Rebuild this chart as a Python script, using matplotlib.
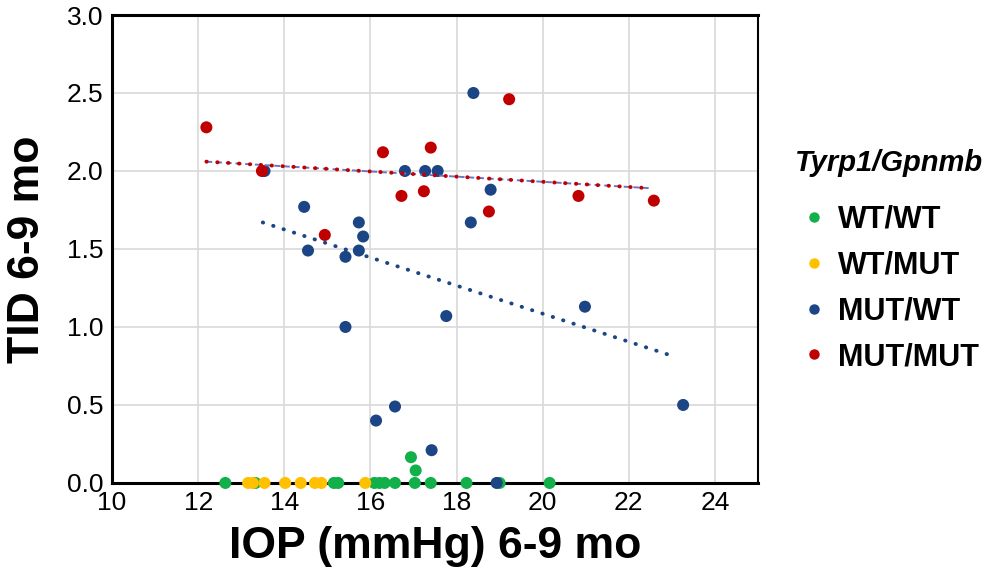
import numpy as np
import matplotlib.pyplot as plt
from matplotlib.lines import Line2D

plt.rcParams['font.family'] = ['Liberation Sans', 'DejaVu Sans']

# WT/WT
wtwt_x = [12.63, 13.33, 15.15, 15.25, 16.09, 16.21, 16.33, 16.57, 16.94, 17.03,
          17.05, 17.40, 18.23, 19.00, 20.16]
wtwt_y = [0, 0, 0, 0, 0, 0, 0, 0, 0.165, 0, 0.08, 0, 0, 0, 0]
# WT/MUT
wtmut_x = [13.16, 13.27, 13.54, 14.02, 14.38, 14.71, 14.86, 15.88]
wtmut_y = [0, 0, 0, 0, 0, 0, 0, 0]
# MUT/WT
mutwt_x = [13.54, 14.46, 14.55, 15.42, 15.42, 15.73, 15.83, 15.73, 16.13, 16.57,
           16.80, 17.27, 17.56, 17.76, 17.42, 18.33, 18.39, 18.79, 18.93, 20.98, 23.26]
mutwt_y = [2.00, 1.77, 1.49, 1.45, 1.00, 1.67, 1.58, 1.49, 0.40, 0.49,
           2.00, 2.00, 2.00, 1.07, 0.21, 1.67, 2.50, 1.88, 0.00, 1.13, 0.50]
# MUT/MUT
mutmut_x = [12.19, 13.48, 14.94, 16.29, 16.72, 17.24, 17.40, 18.75, 19.22, 20.83, 22.58]
mutmut_y = [2.28, 2.00, 1.59, 2.12, 1.84, 1.87, 2.15, 1.74, 2.46, 1.84, 1.81]

# fit lines (end points)
fit_mutwt_x = [13.50, 23.06]
fit_mutwt_y = [1.67, 0.81]
fit_mutmut_x = [12.19, 22.46]
fit_mutmut_y = [2.06, 1.89]

groups = ["WT/WT", "WT/MUT", "MUT/WT", "MUT/MUT"]
colors = ["#12B04B", "#FFC000", "#1B4584", "#C00000"]

fig = plt.figure(figsize=(9.89, 5.77), dpi=100)
ax = fig.add_axes([0.1133, 0.163, 0.6532, 0.811])

data = [(wtwt_x, wtwt_y), (wtmut_x, wtmut_y), (mutwt_x, mutwt_y), (mutmut_x, mutmut_y)]
for (x, y), c in zip(data, colors):
    ax.scatter(x, y, s=75, color=c, edgecolors='none', zorder=3, clip_on=False)

ax.plot(fit_mutwt_x, fit_mutwt_y, color=colors[2], lw=2.8,
        linestyle=(0, (0.1, 2.7)), dash_capstyle='round', zorder=4)
ax.plot(fit_mutmut_x, fit_mutmut_y, color="#6F73C8", lw=1.4,
        linestyle=(0, (3, 2)), zorder=4)
ax.plot(fit_mutmut_x, fit_mutmut_y, color=colors[3], lw=2.8,
        linestyle=(0, (0.1, 2.7)), dash_capstyle='round', zorder=4)

ax.set_xlim(10, 25)
ax.set_ylim(0, 3.0)
ax.set_xticks(np.arange(10, 25, 2))
ax.set_yticks(np.arange(0, 3.01, 0.5))
ax.set_yticklabels([f"{v:.1f}" for v in np.arange(0, 3.01, 0.5)])
ax.grid(True, color="#D9D9D9", lw=1.2)
ax.set_axisbelow(True)
ax.tick_params(length=0, labelsize=19, pad=6)

for side in ['left', 'bottom', 'top']:
    ax.spines[side].set_linewidth(2.2)
ax.spines['right'].set_linewidth(1.5)

ax.set_xlabel("IOP (mmHg) 6-9 mo", fontsize=32, fontweight='bold', labelpad=8)
ax.set_ylabel("TID 6-9 mo", fontsize=32, fontweight='bold', labelpad=14)

handles = [Line2D([], [], marker='o', linestyle='none', color=c, markersize=6.5)
           for c in colors]
leg = fig.legend(handles, groups, title="Tyrp1/Gpnmb", loc='upper left',
                 bbox_to_anchor=(0.776, 0.79), frameon=False,
                 prop={'size': 22, 'weight': 'bold'}, labelspacing=0.52,
                 handletextpad=0.3, handlelength=1.0)
leg.get_title().set_fontsize(21)
leg.get_title().set_fontweight('bold')
leg.get_title().set_fontstyle('italic')
leg._legend_box.sep = 20

fig.savefig("out.png", dpi=100)
